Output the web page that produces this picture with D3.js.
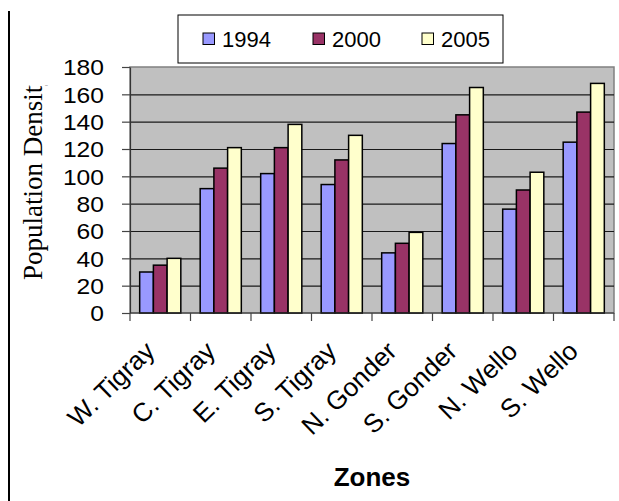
<!DOCTYPE html>
<html>
<head>
<meta charset="utf-8">
<script src="https://cdn.jsdelivr.net/npm/d3@7"></script>
<style>
  html, body { margin: 0; padding: 0; background: #fff; }
  svg { display: block; }
</style>
</head>
<body>
<div id="chart"></div>
<script>
// ---- data ----
const zones = ["W. Tigray", "C. Tigray", "E. Tigray", "S. Tigray", "N. Gonder", "S. Gonder", "N. Wello", "S. Wello"];
const years = ["1994", "2000", "2005"];
const v1994 = [30, 91, 102, 94, 44, 124, 76, 125];
const v2000 = [35, 106, 121, 112, 51, 145, 90, 147];
const v2005 = [40, 121, 138, 130, 59, 165, 103, 168];
const yTicks = [0, 20, 40, 60, 80, 100, 120, 140, 160, 180];
const yTitle = "Population Density";
const xTitle = "Zones";

const colors = { "1994": "#9999FF", "2000": "#993366", "2005": "#FFFFCC" };
const seriesValues = { "1994": v1994, "2000": v2000, "2005": v2005 };

const W = 619, H = 501;
const pL = 130, pR = 614, pT = 67, pB = 313;
const sans = "Arial, 'Liberation Sans', Helvetica, sans-serif";
const serif = "'Times New Roman', 'Liberation Serif', serif";

const svg = d3.select("#chart").append("svg").attr("width", W).attr("height", H);
svg.append("rect").attr("width", W).attr("height", H).attr("fill", "#fff");

const x0 = d3.scaleBand().domain(zones).range([pL, pR]).paddingInner(0.32).paddingOuter(0.16);
const x1 = d3.scaleBand().domain(years).range([0, x0.bandwidth()]);
const y = d3.scaleLinear().domain([0, 180]).range([pB, pT]);

// outer frame line at left
svg.append("line").attr("x1", 9).attr("x2", 9).attr("y1", 11).attr("y2", H)
  .attr("stroke", "#000").attr("stroke-width", 2);

// plot area
svg.append("rect").attr("x", pL).attr("y", pT).attr("width", pR - pL).attr("height", pB - pT)
  .attr("fill", "#C0C0C0").attr("stroke", "#808080").attr("stroke-width", 1.5);

// gridlines
const grid = svg.append("g").attr("transform", `translate(${pL},0)`)
  .call(d3.axisLeft(y).tickValues(yTicks.filter(t => t > 0 && t < 180)).tickSize(-(pR - pL)).tickFormat(""));
grid.select(".domain").remove();
grid.selectAll("line").attr("stroke", "#1a1a1a").attr("stroke-width", 1.1);

// bars
const groups = svg.append("g").selectAll("g").data(zones).join("g")
  .attr("transform", d => `translate(${x0(d)},0)`);
groups.selectAll("rect").data((d, i) => years.map(yr => ({ yr, v: seriesValues[yr][i] }))).join("rect")
  .attr("x", d => x1(d.yr))
  .attr("y", d => y(d.v))
  .attr("width", x1.bandwidth())
  .attr("height", d => y(0) - y(d.v))
  .attr("fill", d => colors[d.yr])
  .attr("stroke", "#000").attr("stroke-width", 1.5);

// y axis
const yAxis = svg.append("g").attr("transform", `translate(${pL},0)`)
  .call(d3.axisLeft(y).tickValues(yTicks).tickSize(8).tickSizeOuter(0));
yAxis.select(".domain").attr("stroke", "#333").attr("stroke-width", 1.2);
yAxis.selectAll(".tick line").attr("stroke", "#444").attr("stroke-width", 1.2);
yAxis.selectAll(".tick text")
  .attr("x", null).attr("dy", "0.36em")
  .attr("transform", "translate(-26,0) scale(1.12,1)")
  .attr("font-family", sans).attr("font-size", 22).attr("fill", "#000");

// x axis line and ticks at category boundaries
svg.append("line").attr("x1", pL).attr("x2", pR).attr("y1", pB).attr("y2", pB)
  .attr("stroke", "#333").attr("stroke-width", 1.2);
const bounds = zones.map(z => x0(z) - x0.step() * x0.paddingOuter()).concat([pR]);
svg.append("g").selectAll("line").data(bounds).join("line")
  .attr("x1", d => d).attr("x2", d => d).attr("y1", pB).attr("y2", pB + 8)
  .attr("stroke", "#444").attr("stroke-width", 1.2);

// x labels
svg.append("g").selectAll("text").data(zones).join("text")
  .attr("transform", d => `translate(${x0(d) + x0.bandwidth() / 2 - 4},353) rotate(-44)`)
  .attr("text-anchor", "end")
  .attr("font-family", sans).attr("font-size", 26).attr("fill", "#000")
  .text(d => d);

// x title
svg.append("text").attr("x", 372).attr("y", 486).attr("text-anchor", "middle")
  .attr("font-family", sans).attr("font-size", 26).attr("font-weight", "bold").text(xTitle);

// y title (clipped at top as in the original)
svg.append("clipPath").attr("id", "ytclip").append("rect")
  .attr("x", 0).attr("y", 85).attr("width", 120).attr("height", H - 85);
svg.append("g").attr("clip-path", "url(#ytclip)")
  .append("text").attr("transform", "translate(42,280) rotate(-90)")
  .attr("font-family", serif).attr("font-size", 27).attr("fill", "#000").text(yTitle);

// legend
const lg = svg.append("g");
lg.append("rect").attr("x", 178).attr("y", 15).attr("width", 325).attr("height", 48)
  .attr("fill", "#fff").attr("stroke", "#000").attr("stroke-width", 1);
const legX = [203, 313, 422];
const items = lg.selectAll("g.item").data(years).join("g").attr("class", "item")
  .attr("transform", (d, i) => `translate(${legX[i]},0)`);
items.append("rect").attr("x", 0).attr("y", 33).attr("width", 11.5).attr("height", 11.5)
  .attr("fill", d => colors[d]).attr("stroke", "#000").attr("stroke-width", 1);
items.append("text").attr("x", 19).attr("y", 46.5)
  .attr("font-family", sans).attr("font-size", 22).attr("fill", "#000").text(d => d);
</script>
</body>
</html>
